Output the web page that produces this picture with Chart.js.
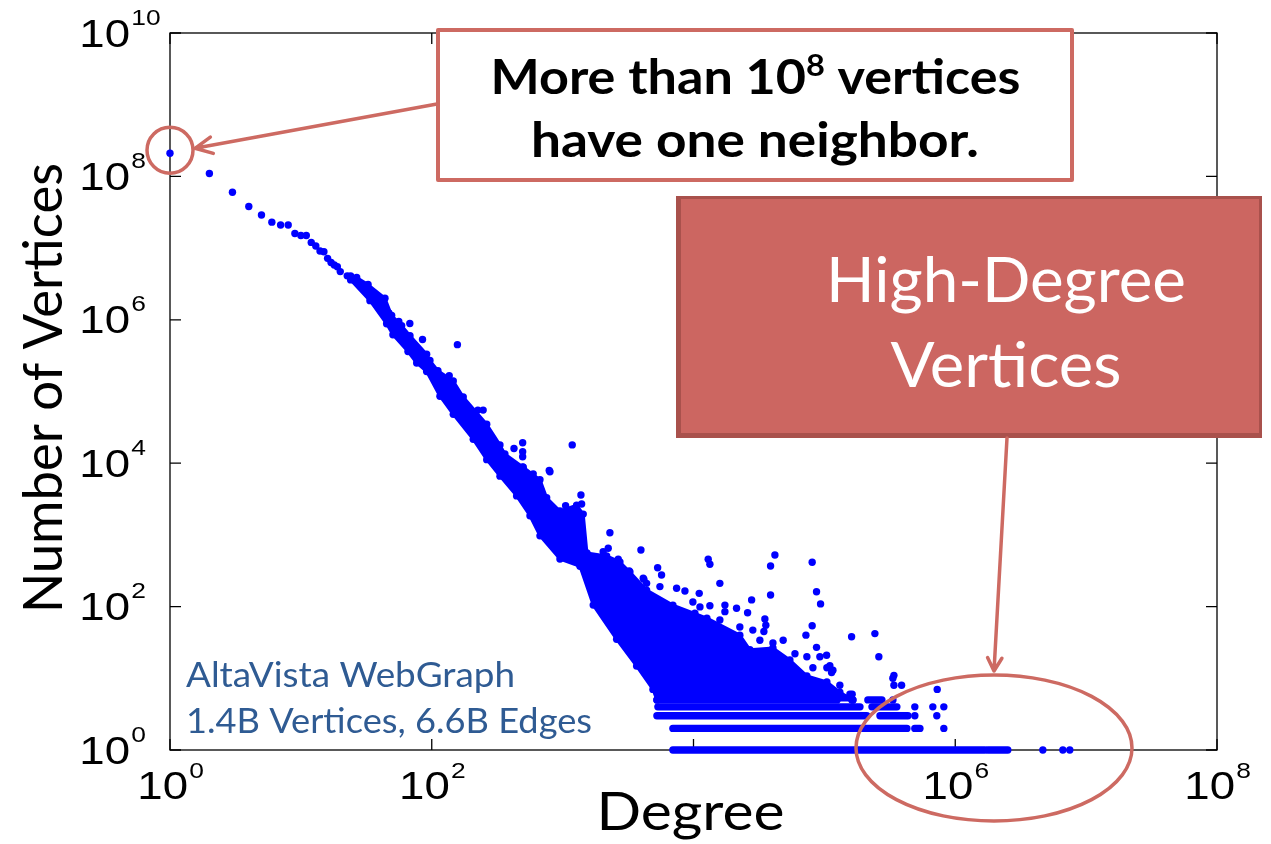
<!DOCTYPE html>
<html>
<head>
<meta charset="utf-8">
<title>Degree distribution</title>
<script src="https://cdn.jsdelivr.net/npm/chart.js@4.4.0/dist/chart.umd.min.js"></script>
<style>
  html, body { margin: 0; padding: 0; background: #fff; }
  canvas { display: block; }
</style>
</head>
<body>
<canvas id="degreeChart" width="1271" height="844"></canvas>
<script>
// Values (degree, number of vertices)
const headDegree = [1, 2, 3, 4, 5, 6, 7, 8, 9, 10, 11, 12, 13, 14, 15, 16, 17, 18, 19, 20, 22.6];
const headCount = [2.1e8, 1.1e8, 6.0e7, 3.8e7, 2.9e7, 2.3e7, 2.1e7, 2.1e7, 1.6e7, 1.5e7, 1.5e7, 1.2e7, 1.07e7,
  9.1e6, 8.9e6, 7.2e6, 6.3e6, 5.8e6, 5.5e6, 4.7e6, 4.1e6];

// dense part of the cloud: its upper and lower edge
const cloudTopDegree = [24, 26.7, 32.6, 43.9, 49.4, 58.9, 68.2, 91.4, 96.9, 111.5, 146, 174, 263, 332, 362, 500,
  671, 755, 954, 1279, 1437, 1534, 2169, 2740, 3267, 4381, 6960, 12660, 22600, 26980, 40450, 54500, 73500,
  104500, 131300, 165100];
const cloudTopCount = [4.1e6, 3.9e6, 3.1e6, 2.0e6, 1.15e6, 8.3e5, 6.0e5, 3.3e5, 2.7e5, 1.95e5, 1.4e5, 8.4e4,
  3.5e4, 1.8e4, 1.35e4, 8.8e3, 5.9e3, 3.3e3, 2.15e3, 2.6e3, 1.95e3, 560, 508, 419, 304, 170, 105, 69, 40, 25,
  26.5, 18, 10.8, 8.9, 6.4, 5];
const cloudBottomDegree = [24, 33.7, 45.2, 50.5, 65.8, 76.7, 91.4, 115.5, 146, 207.5, 263, 332, 445, 563, 671,
  954, 1356, 1713, 2586, 3675, 4897, 5254, 165100];
const cloudBottomCount = [3.6e6, 1.85e6, 8.8e5, 6.2e5, 3.6e5, 2.5e5, 1.9e5, 8.6e4, 4.8e4, 2.15e4, 1.12e4, 6.6e3,
  3.5e3, 1.85e3, 970, 460, 365, 105, 35, 14.8, 7, 5, 5];

// runs of consecutive degrees sharing a small count: [count, from degree, to degree]
const rowRuns = [
  [1, 6960, 1.68e6], [1, 1.77e6, 2.52e6],
  [2, 6960, 4.27e5], [2, 4.91e5, 5.37e5],
  [3, 5254, 2.11e5], [3, 2.66e5, 4.35e5],
  [4, 5345, 1.87e5], [4, 2.31e5, 3.58e5],
  [5, 5254, 1.25e5], [5, 2.15e5, 2.75e5]
];

// single points away from the cloud
const outlierDegree = [68, 85, 157, 136, 142, 225, 247, 495, 425, 495, 495, 495, 790, 1184, 596, 1380, 1054, 1397,
  800, 2297, 2230, 2040, 3965, 2660, 5320, 5700, 3228, 4180, 4130, 4381, 5538, 7428, 8600, 11060, 12950, 13340,
  15900, 13340, 17380, 21330, 17380, 25900, 41880, 38800, 80700, 87100, 93500, 38800, 27800, 35100, 35700, 34500,
  80700, 72300, 161400, 243200, 260700, 48450, 59600, 87100, 104000, 110100, 113500, 339900, 333600, 339900,
  389000, 728000, 163000, 156700, 4.67e6, 6.64e6, 7.5e6, 8.18e5, 4.91e5, 7.23e5, 4.91e5, 6.74e5, 8.18e5,
  1.62e5, 3.34e5, 2.26e3, 2.42e3, 2.34e3, 9890, 11200, 10250, 15900, 22600, 28400, 32150, 40450, 73500, 81700,
  92400, 104500, 116200, 131300, 43350, 51700, 61650, 47, 56, 38];
const outlierCount = [8.9e5, 5.3e5, 4.5e5, 1.66e5, 1.33e5, 5.5e4, 5.5e4, 1.93e4, 1.6e4, 1.45e4, 1.23e4, 8.9e3,
  7.9e3, 1.8e4, 7.1e3, 3.6e3, 2.55e3, 2.7e3, 7.6e3, 1074, 650, 583, 615, 457, 349, 276, 314, 240, 248, 211, 190,
  180, 165, 153, 457, 389, 211, 103, 105, 95, 85, 82, 525, 368, 415, 161, 109, 145, 124, 67, 55, 45, 54, 40, 38,
  42, 20, 34, 22, 27, 21, 15, 12, 11, 10, 8, 8, 7, 6, 6, 1, 1, 1, 2, 3, 3, 4, 4, 4, 5, 5, 324, 330, 290, 116, 99,
  81, 65, 52, 47, 34, 31, 20, 14, 20, 14, 13, 8, 18, 14, 12, 1.25e6, 9.5e5, 1.6e6];

const xTickExp = [0, 2, 4, 6, 8];
const xLabelExp = [0, 2, 6, 8];
const yTickExp = [0, 2, 4, 6, 8, 10];

const BLUE = '#0000ff';
const RED = '#cd6a62';

const pts = (xs, ys) => xs.map((v, i) => ({ x: v, y: ys[i] }));

// text squeezed/stretched to a measured width
function drawRuns(ctx, runs, x, baseline, width, family, weight, color, align) {
  ctx.save();
  ctx.fillStyle = color;
  ctx.textAlign = 'left';
  ctx.textBaseline = 'alphabetic';
  let total = 0;
  const widths = runs.map(r => {
    ctx.font = `${weight} ${r.size}px ${family}`;
    const w = ctx.measureText(r.text).width;
    total += w;
    return w;
  });
  const sx = width / total;
  ctx.translate(align === 'center' ? x - width / 2 : x, baseline);
  ctx.scale(sx, 1);
  let cx = 0;
  runs.forEach((r, i) => {
    ctx.font = `${weight} ${r.size}px ${family}`;
    ctx.fillText(r.text, cx, -(r.rise || 0));
    cx += widths[i];
  });
  ctx.restore();
}

function arrow(ctx, x1, y1, x2, y2, len, spread) {
  const a = Math.atan2(y2 - y1, x2 - x1);
  ctx.beginPath();
  ctx.moveTo(x1, y1);
  ctx.lineTo(x2, y2);
  ctx.moveTo(x2 - len * Math.cos(a - spread), y2 - len * Math.sin(a - spread));
  ctx.lineTo(x2, y2);
  ctx.lineTo(x2 - len * Math.cos(a + spread), y2 - len * Math.sin(a + spread));
  ctx.stroke();
}

const TICK_FONT = '"Liberation Sans", Arial, sans-serif';
const SX = 1.2; // the tick labels look wider than plain Helvetica

function power(ctx, exp, px, py, axis) {
  ctx.save();
  ctx.fillStyle = '#000';
  ctx.textBaseline = 'alphabetic';
  ctx.textAlign = 'left';
  ctx.font = `38px ${TICK_FONT}`;
  const wBase = ctx.measureText('10').width * SX;
  ctx.font = `22px ${TICK_FONT}`;
  const wExp = ctx.measureText(String(exp)).width * SX;
  let left, base;
  if (axis === 'y') {
    left = 130 - wBase;
    base = py + 13.5;
  } else {
    left = px - (wBase + wExp) / 2;
    base = 799;
  }
  ctx.translate(left, base);
  ctx.scale(SX, 1);
  ctx.font = `38px ${TICK_FONT}`;
  ctx.fillText('10', 0, 0);
  ctx.font = `22px ${TICK_FONT}`;
  ctx.fillText(String(exp), wBase / SX + 1, axis === 'y' ? -22 : -21);
  ctx.restore();
}

const framePlugin = {
  id: 'frame',
  beforeDatasetsDraw(chart) {
    const { ctx, chartArea: a, scales: { x, y } } = chart;
    ctx.save();
    ctx.strokeStyle = '#000';
    ctx.lineWidth = 1.3;
    ctx.strokeRect(a.left, a.top, a.right - a.left, a.bottom - a.top);
    ctx.beginPath();
    xTickExp.forEach(e => {
      const px = x.getPixelForValue(10 ** e);
      ctx.moveTo(px, a.bottom); ctx.lineTo(px, a.bottom - 11);
      ctx.moveTo(px, a.top); ctx.lineTo(px, a.top + 11);
    });
    yTickExp.forEach(e => {
      const py = y.getPixelForValue(10 ** e);
      ctx.moveTo(a.left, py); ctx.lineTo(a.left + 11, py);
      ctx.moveTo(a.right, py); ctx.lineTo(a.right - 11, py);
    });
    ctx.stroke();
    ctx.restore();
  },
  afterDraw(chart) {
    const { ctx, scales: { x, y } } = chart;
    const LATO = 'Lato, "Open Sans", sans-serif';

    // tick labels
    xLabelExp.forEach(e => power(ctx, e, x.getPixelForValue(10 ** e), 0, 'x'));
    yTickExp.forEach(e => power(ctx, e, 0, y.getPixelForValue(10 ** e), 'y'));

    // axis titles
    drawRuns(ctx, [{ text: 'Degree', size: 53 }], 690.5, 830, 188, LATO, 'normal', '#000', 'center');
    ctx.save();
    ctx.translate(62, 388);
    ctx.rotate(-Math.PI / 2);
    drawRuns(ctx, [{ text: 'Number of Vertices', size: 54 }], 0, 0, 450, LATO, 'normal', '#000', 'center');
    ctx.restore();

    // data set note
    drawRuns(ctx, [{ text: 'AltaVista WebGraph', size: 35 }], 186, 687, 329, LATO, 'normal', '#2f5b93', 'left');
    drawRuns(ctx, [{ text: '1.4B Vertices, 6.6B Edges', size: 35 }], 186, 733, 406, LATO, 'normal', '#2f5b93', 'left');

    ctx.save();
    ctx.strokeStyle = RED;
    ctx.lineWidth = 3.5;
    ctx.lineCap = 'round';
    ctx.lineJoin = 'round';

    // circle round the degree-1 point and callout
    const cx0 = x.getPixelForValue(headDegree[0]);
    const cy0 = y.getPixelForValue(headCount[0]) - 3;
    ctx.beginPath();
    ctx.arc(cx0, cy0, 23, 0, Math.PI * 2);
    ctx.stroke();
    arrow(ctx, 437, 104, cx0 + 25, cy0 - 2, 19, 0.45);

    ctx.fillStyle = '#fff';
    ctx.lineWidth = 4;
    ctx.fillRect(438, 30, 634, 150);
    ctx.strokeRect(438, 30, 634, 150);
    drawRuns(ctx, [{ text: 'More than 10', size: 48 }, { text: '8', size: 30, rise: 18 }, { text: ' vertices', size: 48 }],
      755.5, 94, 530, LATO, 'bold', '#000', 'center');
    drawRuns(ctx, [{ text: 'have one neighbor.', size: 48 }], 755, 157, 448, LATO, 'bold', '#000', 'center');

    // high-degree box
    ctx.fillStyle = '#a9514c';
    ctx.fillRect(676, 196, 586, 242);
    ctx.fillStyle = '#cc6661';
    ctx.fillRect(681, 199, 578, 234);
    drawRuns(ctx, [{ text: 'High-Degree', size: 62 }], 1006, 302, 360, LATO, 'normal', '#fff', 'center');
    drawRuns(ctx, [{ text: 'Vertices', size: 62 }], 1006, 387, 231, LATO, 'normal', '#fff', 'center');

    ctx.lineWidth = 3.5;
    arrow(ctx, 1007, 438, 994, 671, 15, 0.5);

    ctx.beginPath();
    ctx.ellipse(994, 748, 138, 73, 0, 0, Math.PI * 2);
    ctx.stroke();
    ctx.restore();
  }
};

const dotStyle = {
  pointRadius: 3.7,
  pointBackgroundColor: BLUE,
  pointBorderWidth: 0,
  backgroundColor: BLUE,
  borderColor: BLUE,
  clip: 10
};

const datasets = [
  {
    type: 'line', data: pts(cloudTopDegree, cloudTopCount), fill: '+1',
    borderWidth: 3, borderJoinStyle: 'round', borderCapStyle: 'round', tension: 0, ...dotStyle
  },
  {
    type: 'line', data: pts(cloudBottomDegree, cloudBottomCount), fill: false,
    borderWidth: 3, borderJoinStyle: 'round', borderCapStyle: 'round', tension: 0, ...dotStyle
  },
  { type: 'scatter', data: pts(headDegree, headCount), ...dotStyle },
  { type: 'scatter', data: pts(outlierDegree, outlierCount), ...dotStyle },
  ...rowRuns.map(([c, from, to]) => ({
    type: 'line', data: [{ x: from, y: c }, { x: to, y: c }], fill: false,
    borderWidth: 7.4, borderCapStyle: 'round', borderColor: BLUE, pointRadius: 0, clip: 10
  }))
];

new Chart(document.getElementById('degreeChart').getContext('2d'), {
  type: 'scatter',
  data: { datasets },
  options: {
    responsive: false,
    animation: false,
    devicePixelRatio: 1,
    layout: { padding: { left: 170, top: 33, right: 54, bottom: 94 } },
    plugins: {
      legend: { display: false },
      tooltip: { enabled: false }
    },
    scales: {
      x: { type: 'logarithmic', min: 1, max: 1e8, display: false },
      y: { type: 'logarithmic', min: 1, max: 1e10, display: false }
    }
  },
  plugins: [framePlugin]
});
</script>
</body>
</html>
